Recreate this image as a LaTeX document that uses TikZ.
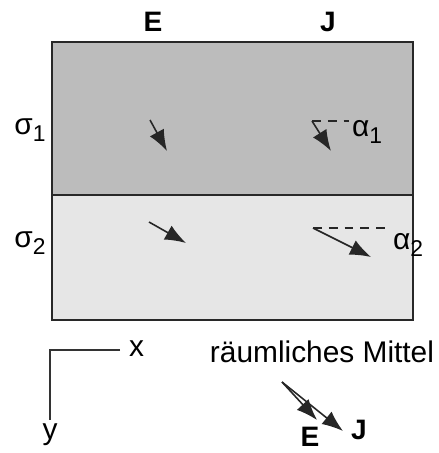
\documentclass[tikz,border=0pt]{standalone}
\usepackage{fontspec}
\setmainfont{Liberation Sans}
\usepackage{tikz}
\usetikzlibrary{arrows.meta,positioning}
\definecolor{darklayer}{RGB}{188,188,188}
\definecolor{lightlayer}{RGB}{230,230,230}
\definecolor{edge}{RGB}{40,40,40}
\newcommand{\lowidx}[1]{\raisebox{-0.45ex}{\fontsize{13}{15}\selectfont #1}}
\tikzset{
  layer/.style={draw=edge,line width=0.9pt},
  vec/.style={-{Latex[length=4.2mm,width=3.2mm]},line width=0.9pt,draw=black!85},
  ref/.style={dashed,dash pattern=on 5pt off 4pt,line width=0.6pt,draw=black!85},
  lbl/.style={font=\fontsize{17}{20}\selectfont,inner sep=1pt},
  head/.style={font=\fontsize{16}{19}\selectfont\bfseries,inner sep=1pt},
  axis/.style={line width=0.8pt,draw=black!80},
}
\begin{document}
\begin{tikzpicture}[x=0.02cm,y=-0.02cm]
  \useasboundingbox (0,0) rectangle (439,453);
  % layers
  \path[layer,fill=darklayer] (52,42) rectangle (413,195);
  \path[layer,fill=lightlayer] (52,195) rectangle (413,320);
  \node[head] (hE) at (153,22) {E};
  \node[head] (hJ) at (328,22) {J};
  \node[lbl] (s1) at (30,130) {σ\lowidx{1}};
  \node[lbl] (s2) at (30,243) {σ\lowidx{2}};
  % upper layer
  \coordinate (e1a) at (150,120);
  \coordinate (e1b) at (167,151);
  \coordinate (j1a) at (312,121);
  \coordinate (j1b) at (331,151);
  \coordinate (j1r) at (349,121);
  \node[lbl] (a1) at (367,132) {α\lowidx{1}};
  \draw[vec] (e1a) -- (e1b);
  \draw[vec] (j1a) -- (j1b);
  \draw[ref] (j1a) -- (j1r);
  % lower layer
  \coordinate (e2a) at (149,222);
  \coordinate (e2b) at (186,243);
  \coordinate (j2a) at (313,228);
  \coordinate (j2b) at (371,257);
  \coordinate (j2r) at (385,228);
  \node[lbl] (a2) at (408,245) {α\lowidx{2}};
  \draw[vec] (e2a) -- (e2b);
  \draw[vec] (j2a) -- (j2b);
  \draw[ref] (j2a) -- (j2r);
  % axes
  \coordinate (o) at (50,350);
  \coordinate (ox) at (120,350);
  \coordinate (oy) at (50,420);
  \node[lbl,right=4pt of ox,yshift=1pt] (xl) {x};
  \node[lbl,below=1pt of oy] (yl) {y};
  \draw[axis] (ox) -- (o) -- (oy);
  % mean
  \node[lbl] (mean) at (322,352) {räumliches Mittel};
  \coordinate (m0) at (282,382);
  \coordinate (mE) at (317,420);
  \coordinate (mJ) at (343,431);
  \node[head] (lE) at (310,437) {E};
  \node[head] (lJ) at (359,430) {J};
  \draw[vec] (m0) -- (mE);
  \draw[vec] (m0) -- (mJ);
\end{tikzpicture}
\end{document}
